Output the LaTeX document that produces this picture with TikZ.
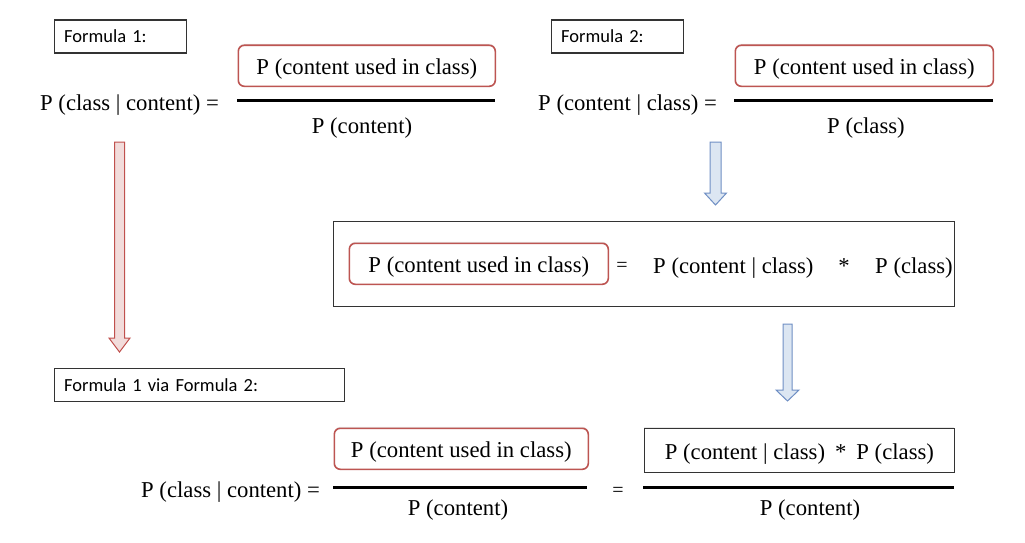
\documentclass[tikz,border=0pt]{standalone}
\usepackage{fontspec}
\setmainfont{Liberation Serif}
\newfontfamily\lblfont{Carlito}
\usetikzlibrary{shadows}
\definecolor{boxred}{HTML}{BD5552}
\definecolor{arrred}{HTML}{C0504D}
\definecolor{arrredfill}{HTML}{F2DCDB}
\definecolor{arrblue}{HTML}{6F8FC4}
\definecolor{arrbluefill}{HTML}{DCE6F2}
\definecolor{boxgray}{HTML}{333333}
\newcommand\blkarrow[7]{%
  \filldraw[#7] ({#1-#5},#2) -- ({#1+#5},#2) -- ({#1+#5},#3) -- ({#1+#6},#3)
    -- (#1,#4) -- ({#1-#6},#3) -- ({#1-#5},#3) -- cycle;}
\begin{document}
\begin{tikzpicture}[x=1pt,y=-1pt,
  txt/.style={font=\fontsize{22.7pt}{26pt}\selectfont, inner sep=0pt},
  smalleq/.style={font=\fontsize{20pt}{24pt}\selectfont, inner sep=0pt},
  lblbox/.style={draw=boxgray, line width=1.3pt, font=\lblfont\fontsize{18.5pt}{22pt}\selectfont,
    align=left, anchor=north west, minimum height=33pt, inner xsep=10pt, inner ysep=0pt},
  redbox/.style={draw=boxred, line width=1.6pt, rounded corners=6pt, fill=white, txt,
    text height=18pt, text depth=0pt, anchor=north west, minimum height=41pt,
    drop shadow={opacity=0.18, shadow xshift=0pt, shadow yshift=1.5pt}},
  blackbox/.style={draw=boxgray, line width=1.8pt, fill=white, txt,
    text height=18pt, text depth=0pt, anchor=north west, minimum height=44pt,
    drop shadow={opacity=0.18, shadow xshift=0pt, shadow yshift=1.5pt}},
  fracline/.style={line width=3pt, black},
  redarrow/.style={draw=arrred, fill=arrredfill, line width=1pt, line join=miter},
  bluearrow/.style={draw=arrblue, fill=arrbluefill, line width=1pt, line join=miter}
]
\useasboundingbox (0,0) rectangle (1025,543);
\fill[white] (0,0) rectangle (1025,543);

% ---- Formula 1 ----
\node[lblbox, text width=112pt] (f1lbl) at (53.5,19.5) {Formula 1:};
\node[txt, anchor=base west] (f1lhs) at (40,110) {P (class | content) =};
\node[redbox, minimum width=257pt] (f1num) at (237.5,44.5) {P (content used in class)};
\draw[fracline] (237,100) -- (495,100);
\node[txt, anchor=base] (f1den) at (362,133) {P (content)};

% ---- Formula 2 ----
\node[lblbox, text width=112pt] (f2lbl) at (550.5,19.5) {Formula 2:};
\node[txt, anchor=base west] (f2lhs) at (538,110) {P (content | class) =};
\node[redbox, minimum width=258pt] (f2num) at (734.5,44.5) {P (content used in class)};
\draw[fracline] (734,100) -- (993,100);
\node[txt, anchor=base] (f2den) at (866,133) {P (class)};

% ---- arrows ----
\blkarrow{119.5}{142}{338}{352}{5}{10.5}{redarrow}
\blkarrow{715.5}{142}{193}{205}{5.5}{11}{bluearrow}
\blkarrow{787.5}{324}{390}{401}{4.5}{11.5}{bluearrow}

% ---- middle box ----
\draw[boxgray, line width=1.8pt] (333.5,221.5) rectangle (954.5,306.5);
\node[redbox, minimum width=259pt] (mnum) at (348.5,242.5) {P (content used in class)};
\node[smalleq, anchor=base] (meq) at (622,271) {=};
\node[txt, anchor=base west] (mpcc) at (653,273) {P (content | class)};
\node[txt, anchor=base] (mstar) at (844,273) {*};
\node[txt, anchor=base west] (mpc) at (875,273) {P (class)};

% ---- Formula 1 via Formula 2 ----
\node[lblbox, text width=270pt] (f3lbl) at (53.5,367.5) {Formula 1 via Formula 2:};
\node[txt, anchor=base west] (f3lhs) at (141,497) {P (class | content) =};
\node[redbox, minimum width=254pt] (f3num) at (333.5,427.5) {P (content used in class)};
\draw[fracline] (333,487) -- (587,487);
\node[txt, anchor=base] (f3den) at (458,515) {P (content)};
\node[smalleq, anchor=base] (f3eq) at (618,496) {=};
\node[blackbox, minimum width=310pt] (f3num2) at (643.5,427.5) {P (content | class)\hspace{10pt}*\hspace{10pt}P (class)};
\draw[fracline] (643,487) -- (954,487);
\node[txt, anchor=base] (f3den2) at (810,515) {P (content)};
\end{tikzpicture}
\end{document}
